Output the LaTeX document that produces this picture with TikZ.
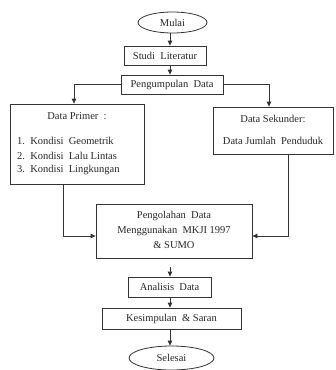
\documentclass[tikz,border=0pt]{standalone}
\usepackage{fontspec}
\setmainfont{Liberation Serif}
\usetikzlibrary{arrows.meta,shapes.geometric}
\begin{document}
\begin{tikzpicture}[x=1pt,y=-1pt,
  every node/.style={font=\fontsize{10.5}{13.5}\selectfont, text=black!85},
  box/.style={draw=black!80, line width=0.8pt, rectangle, inner sep=0pt},
  oval/.style={draw=black!80, line width=0.8pt, ellipse, inner sep=0pt},
  txt/.style={inner sep=0pt},
  arr/.style={draw=black!80, line width=0.8pt, -{Triangle[length=5pt,width=4.5pt]}},
  ln/.style={draw=black!80, line width=0.8pt}]
\useasboundingbox (0,0) rectangle (336,370);
\node[oval, minimum width=69, minimum height=21] (mulai) at (172.5,22.5) {Mulai};
\node[box, minimum width=82, minimum height=19] (studi) at (165,55.5) {Studi\ \ Literatur};
\node[box, minimum width=102, minimum height=19] (kump) at (172,84.5) {Pengumpulan\ \ Data};
\node[box, minimum width=134, minimum height=80] (primer) at (77,144) {};
\node[txt] (ptitle) at (77,116) {Data Primer\ \ :};
\node[txt, anchor=west] (p1) at (17,141) {1.\ \ Kondisi\ \ Geometrik};
\node[txt, anchor=west] (p2) at (17,155.5) {2.\ \ Kondisi\ \ Lalu\ Lintas};
\node[txt, anchor=west] (p3) at (17,170) {3.\ \ Kondisi\ \ Lingkungan};
\node[box, minimum width=120, minimum height=47] (sek) at (273,130.5) {};
\node[txt] (stitle) at (273,119) {Data Sekunder:};
\node[txt] (s1) at (273,141) {Data Jumlah\ \ Penduduk};
\node[box, minimum width=156, minimum height=54] (olah) at (174,231) {};
\node[txt] (o1) at (174,216) {Pengolahan\ \ Data};
\node[txt] (o2) at (174,230.5) {Menggunakan\ \ MKJI 1997};
\node[txt] (o3) at (174,245) {\& SUMO};
\node[box, minimum width=83, minimum height=20] (anal) at (169.5,287) {Analisis\ \ Data};
\node[box, minimum width=139, minimum height=21] (kes) at (171.5,318.5) {Kesimpulan\ \ \& Saran};
\node[oval, minimum width=85, minimum height=24] (selesai) at (171.5,358) {Selesai};
\coordinate (c) at (170,0);
\coordinate (cl) at (74,0);
\coordinate (cr) at (269,0);
\coordinate (pl) at (63,0);
\coordinate (sr) at (288,0);
\coordinate (my) at (0,236);
\coordinate (ostart) at (170,267);
\draw[arr] (mulai.south -| c) -- (studi.north -| c);
\draw[arr] (studi.south -| c) -- (kump.north -| c);
\draw[arr] (kump.west) -| (primer.north -| cl);
\draw[arr] (kump.east) -| (sek.north -| cr);
\draw[arr] (primer.south -| pl) |- (olah.west |- my);
\draw[arr] (sek.south -| sr) |- (olah.east |- my);
\draw[arr] (ostart) -- (anal.north -| c);
\draw[arr] (anal.south -| c) -- (kes.north -| c);
\draw[arr] (kes.south -| c) -- (selesai.north -| c);
\end{tikzpicture}
\end{document}
